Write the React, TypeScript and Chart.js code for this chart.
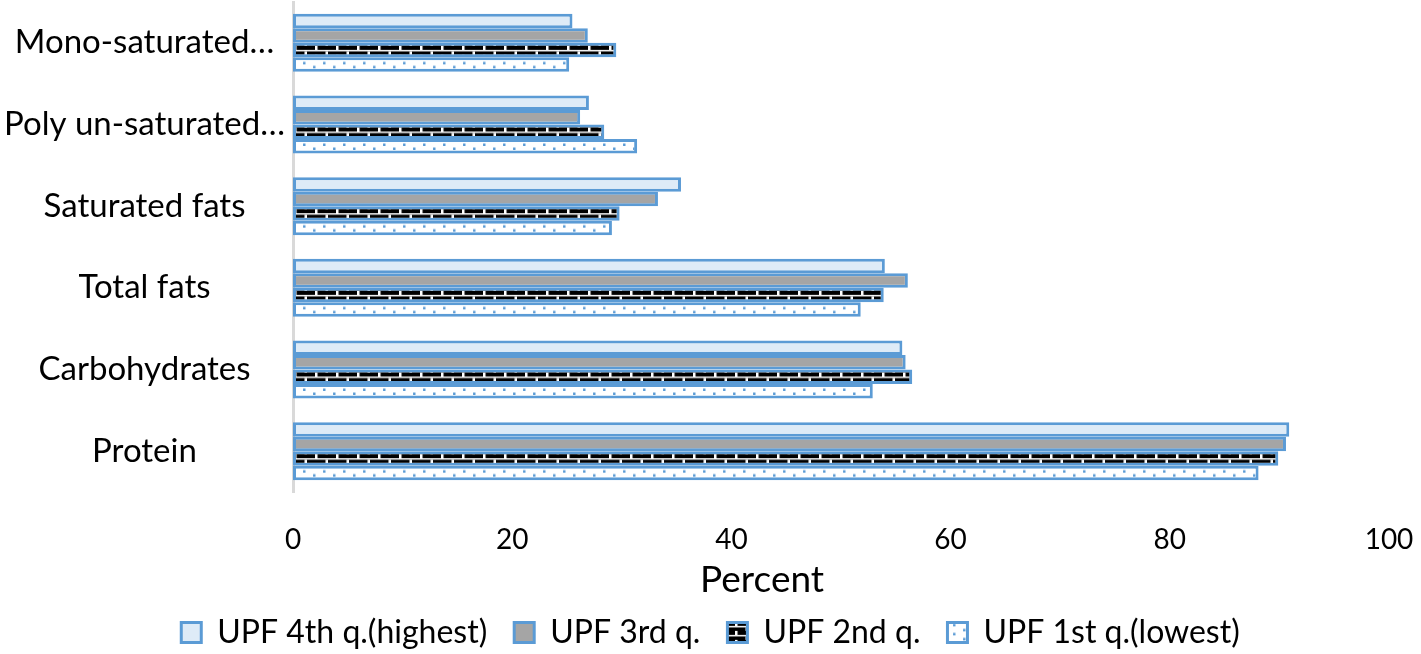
import { useEffect, useRef } from "react";
import { Chart, registerables } from "chart.js";

Chart.register(...registerables);

const categories = ["Mono-saturated…", "Poly un-saturated…", "Saturated fats", "Total fats", "Carbohydrates", "Protein"];
const seriesNames = ["UPF 4th q.(highest)", "UPF 3rd q.", "UPF 2nd q.", "UPF 1st q.(lowest)"];
const upf4th = [25.5, 27.0, 35.4, 54.0, 55.6, 90.9];
const upf3rd = [26.9, 26.2, 33.3, 56.1, 55.9, 90.6];
const upf2nd = [29.5, 28.4, 29.8, 53.9, 56.5, 89.9];
const upf1st = [25.2, 31.4, 29.1, 51.8, 52.9, 88.1];
const xMin = 0;
const xMax = 100;
const xStep = 20;
const xTitle = "Percent";

const BLUE = "#5B9BD5";
const FONT = "Lato, 'Open Sans', sans-serif";
const CAT_PCT = 0.71;
const BORDER = 3;

function makeTile(w: number, h: number, draw: (ctx: CanvasRenderingContext2D) => void) {
  const c = document.createElement("canvas");
  c.width = w;
  c.height = h;
  draw(c.getContext("2d")!);
  return c;
}

// black bricks with thin white joints
const brickTile = () =>
  makeTile(21, 9, (ctx) => {
    ctx.fillStyle = "#000";
    ctx.fillRect(0, 0, 21, 9);
    ctx.fillStyle = "#fff";
    ctx.fillRect(0, 4, 21, 1.5);
    ctx.fillRect(0, 0, 2.5, 4);
    ctx.fillRect(10.5, 5.5, 2.5, 3.5);
  });

// white with small blue dots
const dotTile = () =>
  makeTile(20, 9, (ctx) => {
    ctx.fillStyle = "#fff";
    ctx.fillRect(0, 0, 20, 9);
    ctx.fillStyle = BLUE;
    ctx.fillRect(3, 1.5, 2.5, 2.5);
    ctx.fillRect(13, 5.5, 2.5, 2.5);
  });

// pattern fill lined up with the top of each bar
function patternFill(tile: HTMLCanvasElement) {
  return (c: any) => {
    const p = c.chart.ctx.createPattern(tile, "repeat");
    const s = c.chart.scales?.y;
    if (c.type !== "data" || !s || !s.height) return p;
    const step = s.height / categories.length;
    const group = step * CAT_PCT;
    const top = s.getPixelForValue(c.dataIndex) - group / 2 + c.datasetIndex * (group / 4) + BORDER;
    p.setTransform(new DOMMatrix([1, 0, 0, 1, 0, top]));
    return p;
  };
}

// x axis title, set a little left of the plot centre as in the original
const axisTitle = {
  id: "axisTitle",
  afterDraw(chart: any) {
    const { ctx, chartArea } = chart;
    ctx.save();
    ctx.font = `37px ${FONT}`;
    ctx.fillStyle = "#000";
    ctx.textAlign = "center";
    ctx.textBaseline = "middle";
    ctx.fillText(xTitle, chartArea.left + (chartArea.right - chartArea.left) * 0.428, chartArea.bottom + 88);
    ctx.restore();
  },
};

export default function App() {
  const canvasRef = useRef<HTMLCanvasElement>(null);
  const chartRef = useRef<Chart | null>(null);

  useEffect(() => {
    if (!canvasRef.current) return;
    chartRef.current?.destroy();
    const fills: any[] = ["#DEEBF7", "#A5A5A5", patternFill(brickTile()), patternFill(dotTile())];
    const values = [upf4th, upf3rd, upf2nd, upf1st];
    chartRef.current = new Chart(canvasRef.current, {
      type: "bar",
      data: {
        labels: categories,
        datasets: values.map((v, i) => ({
          label: seriesNames[i],
          data: v,
          backgroundColor: fills[i],
          borderColor: BLUE,
          borderWidth: BORDER,
          borderSkipped: false,
          categoryPercentage: CAT_PCT,
          barPercentage: 1,
        })),
      },
      options: {
        indexAxis: "y",
        animation: false,
        responsive: false,
        devicePixelRatio: 1,
        layout: { padding: { top: 2, right: 0, bottom: 0, left: 0 } },
        scales: {
          x: {
            min: xMin,
            max: xMax,
            grid: { display: false, drawTicks: false },
            border: { display: false },
            ticks: { stepSize: xStep, color: "#000", font: { family: FONT, size: 28 }, padding: 31 },
            afterFit: (s: any) => {
              s.height = 97.5;
              s.paddingLeft = 0;
              s.paddingRight = 32;
            },
          },
          y: {
            grid: { display: false, drawTicks: false },
            border: { display: true, color: "#D9D9D9", width: 3 },
            ticks: { color: "#000", font: { family: FONT, size: 33 }, padding: 8, crossAlign: "center" },
            afterFit: (s: any) => {
              s.width = 293;
              s.paddingTop = 0;
              s.paddingBottom = 0;
            },
          },
        },
        plugins: {
          legend: {
            position: "bottom",
            maxHeight: 64.5,
            labels: { color: "#000", font: { family: FONT, size: 32 }, boxWidth: 20, boxHeight: 20, padding: 27 },
          },
          tooltip: { enabled: false },
        },
      },
      plugins: [axisTitle],
    });
    return () => chartRef.current?.destroy();
  }, []);

  return (
    <div style={{ position: "absolute", left: 0, top: 0, width: 1421, height: 654, background: "#fff" }}>
      <canvas ref={canvasRef} width={1421} height={654} />
    </div>
  );
}
